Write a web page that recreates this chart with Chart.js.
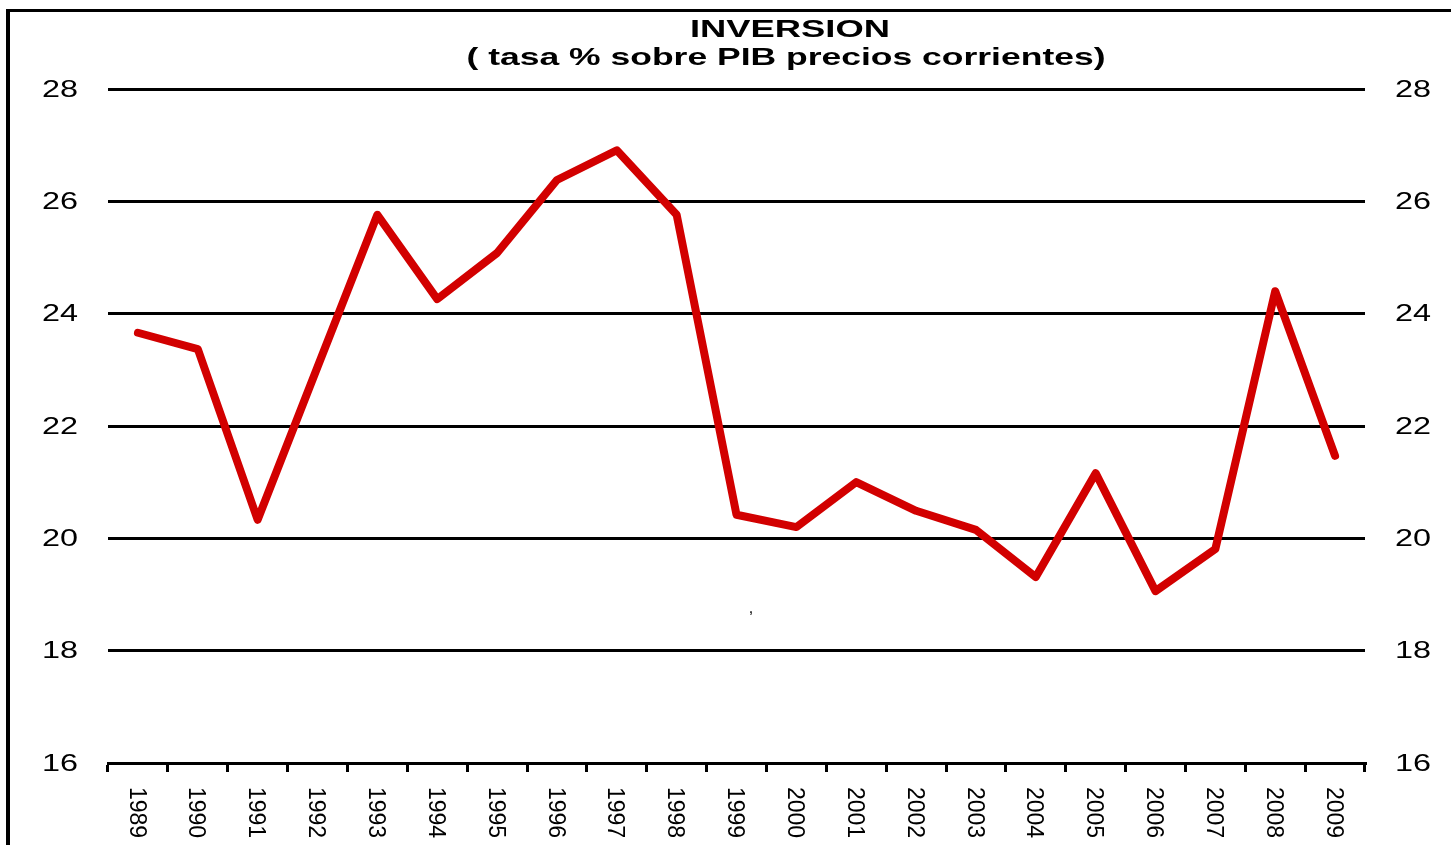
<!DOCTYPE html>
<html>
<head>
<meta charset="utf-8">
<script src="https://cdn.jsdelivr.net/npm/chart.js@4.4.1/dist/chart.umd.min.js"></script>
<style>
    html, body { margin: 0; padding: 0; background: #fff; }
    canvas { display: block; }
</style>
</head>
<body>
<canvas id="inversionChart" width="1451" height="845"></canvas>
<script>
const years = ["1989", "1990", "1991", "1992", "1993", "1994", "1995", "1996", "1997", "1998",
    "1999", "2000", "2001", "2002", "2003", "2004", "2005", "2006", "2007", "2008", "2009"];
const inversion = [23.66, 23.37, 20.33, 23.05, 25.76, 24.26, 25.08, 26.38, 26.91, 25.76,
    20.42, 20.20, 21.00, 20.49, 20.15, 19.31, 21.16, 19.06, 19.81, 24.40, 21.47];
const yTicks = [16, 18, 20, 22, 24, 26, 28];
const titleLines = ["INVERSION", "( tasa % sobre PIB precios corrientes)"];

const FONT = "'Liberation Sans', Arial, sans-serif";

// draw text squeezed/stretched horizontally like the original picture
function stretchText(ctx, text, x, y, sx, align) {
    ctx.save();
    ctx.translate(x, y);
    ctx.scale(sx, 1);
    ctx.textAlign = align;
    ctx.fillText(text, 0, 0);
    ctx.restore();
}

const framePlugin = {
    id: "frame",
    beforeDraw(chart) {
        const ctx = chart.ctx;
        ctx.save();
        ctx.fillStyle = "#fff";
        ctx.fillRect(0, 0, chart.width, chart.height);
        ctx.strokeStyle = "#000";
        ctx.lineWidth = 4;
        ctx.beginPath();
        ctx.moveTo(8, 9);
        ctx.lineTo(8, chart.height);
        ctx.stroke();
        ctx.lineWidth = 3;
        ctx.beginPath();
        ctx.moveTo(6, 10.5);
        ctx.lineTo(chart.width, 10.5);
        ctx.stroke();
        ctx.restore();
    }
};

const textPlugin = {
    id: "texts",
    afterDraw(chart) {
        const ctx = chart.ctx;
        const area = chart.chartArea;
        const xs = chart.scales.x;
        const ys = chart.scales.y;
        ctx.save();
        ctx.fillStyle = "#000";
        ctx.textBaseline = "alphabetic";

        // title
        ctx.font = "bold 24px " + FONT;
        const w1 = ctx.measureText(titleLines[0]).width;
        stretchText(ctx, titleLines[0], 790, 37, 200 / w1, "center");
        const w2 = ctx.measureText(titleLines[1]).width;
        stretchText(ctx, titleLines[1], 786, 65, 639 / w2, "center");

        // y labels on both sides
        ctx.font = "24px " + FONT;
        ctx.textBaseline = "middle";
        yTicks.forEach(v => {
            const py = ys.getPixelForValue(v) + 1;
            stretchText(ctx, String(v), area.left - 30, py, 1.35, "right");
            stretchText(ctx, String(v), area.right + 30, py, 1.35, "left");
        });

        // x labels, turned clockwise
        ctx.font = "23px " + FONT;
        years.forEach((y, i) => {
            const px = xs.getPixelForValue(i) - 2;
            ctx.save();
            ctx.translate(px, area.bottom + 24);
            ctx.rotate(Math.PI / 2);
            ctx.textAlign = "left";
            ctx.textBaseline = "middle";
            ctx.fillText(y, 0, 0);
            ctx.restore();
        });

        // stray comma in the source picture
        ctx.font = "16px " + FONT;
        ctx.textAlign = "center";
        ctx.fillText(",", xs.getPixelForValue(10.24), ys.getPixelForValue(18.75));
        ctx.restore();
    }
};

new Chart(document.getElementById("inversionChart"), {
    type: "line",
    data: {
        labels: years,
        datasets: [{
            label: "Inversion",
            data: inversion,
            borderColor: "#d20000",
            borderWidth: 8,
            borderCapStyle: "round",
            borderJoinStyle: "round",
            pointRadius: 0,
            tension: 0,
            fill: false
        }]
    },
    options: {
        responsive: false,
        animation: false,
        layout: { padding: { top: 89, left: 0, right: 0, bottom: 0 } },
        plugins: {
            legend: { display: false },
            title: { display: false },
            tooltip: { enabled: false }
        },
        scales: {
            x: {
                offset: true,
                grid: {
                    offset: true,
                    drawOnChartArea: false,
                    drawTicks: true,
                    tickLength: 9,
                    lineWidth: 3,
                    color: "#000"
                },
                border: { display: true, color: "#000", width: 3 },
                ticks: { display: false },
                afterFit(scale) { scale.height = 82; }
            },
            y: {
                position: "left",
                min: 16,
                max: 28,
                ticks: { display: false, stepSize: 2 },
                grid: { drawTicks: false, lineWidth: 3, color: "#000" },
                border: { display: false },
                afterFit(scale) { scale.width = 108; }
            },
            y2: {
                position: "right",
                min: 16,
                max: 28,
                ticks: { display: false, stepSize: 2 },
                grid: { display: false },
                border: { display: false },
                afterFit(scale) { scale.width = 86; }
            }
        }
    },
    plugins: [framePlugin, textPlugin]
});
</script>
</body>
</html>
